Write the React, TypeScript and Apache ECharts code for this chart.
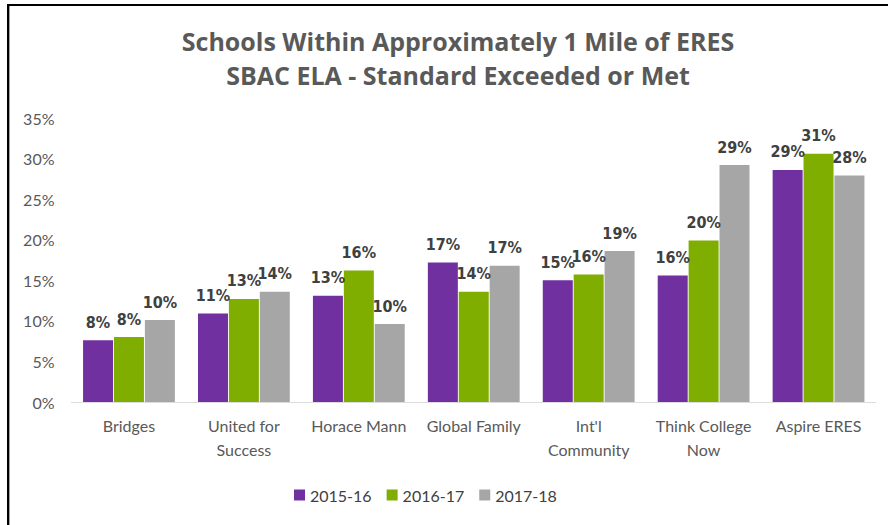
import React, { useEffect, useRef } from "react";
import * as echarts from "echarts";

const categories = [
  "Bridges",
  "United for\nSuccess",
  "Horace Mann",
  "Global Family",
  "Int'l\nCommunity",
  "Think College\nNow",
  "Aspire ERES",
];
const seriesNames = ["2015-16", "2016-17", "2017-18"];
const values2015 = [7.6, 10.9, 13.1, 17.2, 15.0, 15.6, 28.6];
const values2016 = [8.0, 12.7, 16.2, 13.6, 15.7, 19.9, 30.6];
const values2017 = [10.1, 13.6, 9.6, 16.8, 18.6, 29.2, 27.9];
const yTicks = [0, 5, 10, 15, 20, 25, 30, 35];
const colors = ["#7030a0", "#7fae00", "#a6a6a6"];

export default function App() {
  const ref = useRef<HTMLDivElement>(null);
  useEffect(() => {
    if (!ref.current) return;
    const chart = echarts.init(ref.current, null, { renderer: "svg" });
    const labelStyle = {
      show: true,
      position: "top" as const,
      distance: 10,
      fontFamily: "'Liberation Sans Narrow', 'DejaVu Sans Condensed', Arial, sans-serif",
      fontWeight: "bold" as const,
      fontSize: 16,
      color: "#404040",
      formatter: (p: any) => Math.round(p.value) + "%",
    };
    const data = [values2015, values2016, values2017];
    chart.setOption({
      animation: false,
      backgroundColor: "#ffffff",
      title: {
        text: "Schools Within Approximately 1 Mile of ERES\nSBAC ELA - Standard Exceeded or Met",
        left: 453,
        textAlign: "center",
        top: 19,
        textStyle: {
          fontFamily: "'Open Sans', Lato, sans-serif",
          fontWeight: "bold",
          fontSize: 25,
          lineHeight: 34,
          color: "#595959",
        },
      },
      legend: {
        data: seriesNames,
        bottom: 17,
        left: 289,
        itemWidth: 11,
        itemHeight: 11,
        itemGap: 15,
        icon: "rect",
        textStyle: {
          fontFamily: "Lato, 'Open Sans', sans-serif",
          fontSize: 16,
          color: "#404040",
        },
      },
      grid: {
        left: 71.5,
        right: 12,
        top: 118,
        bottom: 123,
        containLabel: false,
      },
      xAxis: {
        type: "category",
        data: categories,
        axisLine: { lineStyle: { color: "#d9d9d9", width: 1, type: "dotted" } },
        axisTick: { show: false },
        axisLabel: {
          interval: 0,
          margin: 11,
          fontFamily: "Lato, 'Open Sans', sans-serif",
          fontSize: 16,
          lineHeight: 24,
          color: "#595959",
        },
      },
      yAxis: {
        type: "value",
        min: yTicks[0],
        max: yTicks[yTicks.length - 1],
        interval: 5,
        splitLine: { show: false },
        axisLine: { show: false },
        axisTick: { show: false },
        axisLabel: {
          formatter: "{value}%",
          margin: 17,
          fontFamily: "Lato, 'Open Sans', sans-serif",
          fontSize: 16,
          color: "#595959",
        },
      },
      series: seriesNames.map((name, i) => ({
        name,
        type: "bar",
        data: data[i],
        barWidth: 30,
        barGap: "3%",
        itemStyle: { color: colors[i] },
        label: labelStyle,
      })),
      graphic: [
        {
          type: "line",
          shape: { x1: 7, y1: 5, x2: 888, y2: 5 },
          style: { stroke: "#000000", lineWidth: 2 },
        },
        {
          type: "line",
          shape: { x1: 8, y1: 4, x2: 8, y2: 525 },
          style: { stroke: "#000000", lineWidth: 2 },
        },
        {
          type: "line",
          shape: { x1: 9.5, y1: 6, x2: 9.5, y2: 525 },
          style: { stroke: "#a0a0a0", lineWidth: 1 },
        },
      ],
    });
    return () => chart.dispose();
  }, []);
  return (
    <div
      ref={ref}
      style={{ position: "absolute", left: 0, top: 0, width: 888, height: 525 }}
    />
  );
}
